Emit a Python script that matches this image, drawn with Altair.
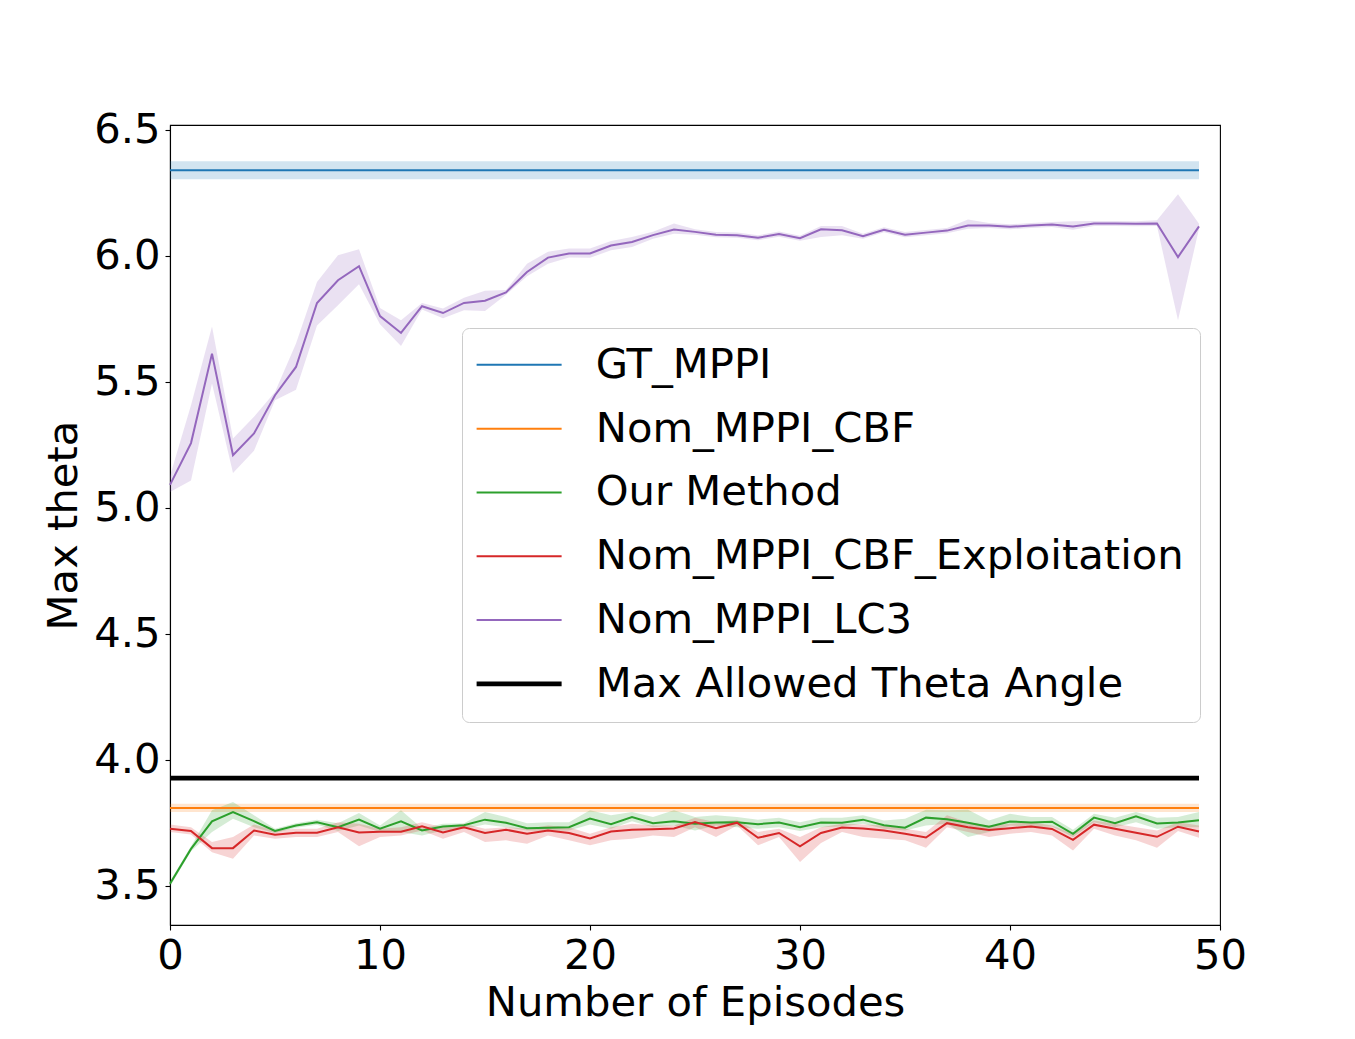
import altair as alt
import pandas as pd

# ---------------- data ----------------
series_names = ["GT_MPPI", "Nom_MPPI_CBF", "Our Method",
                "Nom_MPPI_CBF_Exploitation", "Nom_MPPI_LC3",
                "Max Allowed Theta Angle"]
series_colors = ["#1f77b4", "#ff7f0e", "#2ca02c", "#d62728", "#9467bd", "#000000"]
series_widths = [2, 2, 2, 2, 2, 4.8]

band_names = series_names[:5]
band_colors = series_colors[:5]

episodes = list(range(50))
flat_episodes = [0, 49]

gt_mean, gt_lo, gt_hi = 6.338, 6.303, 6.374
cbf_mean, cbf_lo, cbf_hi = 3.808, 3.792, 3.825
max_theta = 3.927

our_mean = [3.508, 3.646, 3.755, 3.792, 3.756, 3.717, 3.739, 3.752, 3.732, 3.762,
            3.726, 3.755, 3.719, 3.735, 3.740, 3.762, 3.750, 3.728, 3.730, 3.732,
            3.766, 3.744, 3.772, 3.748, 3.756, 3.746, 3.751, 3.752, 3.744, 3.751,
            3.732, 3.751, 3.750, 3.762, 3.740, 3.730, 3.770, 3.764, 3.750, 3.734,
            3.755, 3.751, 3.754, 3.706, 3.770, 3.748, 3.775, 3.747, 3.751, 3.760]
our_lo = [3.497, 3.637, 3.713, 3.766, 3.732, 3.709, 3.730, 3.742, 3.717, 3.739,
          3.713, 3.713, 3.699, 3.719, 3.726, 3.743, 3.732, 3.719, 3.717, 3.719,
          3.743, 3.726, 3.756, 3.732, 3.739, 3.719, 3.739, 3.732, 3.726, 3.732,
          3.717, 3.732, 3.735, 3.746, 3.726, 3.719, 3.739, 3.746, 3.693, 3.713,
          3.739, 3.732, 3.735, 3.693, 3.752, 3.732, 3.752, 3.726, 3.732, 3.732]
our_hi = [3.518, 3.656, 3.799, 3.832, 3.779, 3.726, 3.748, 3.762, 3.748, 3.788,
          3.739, 3.799, 3.728, 3.746, 3.748, 3.792, 3.772, 3.748, 3.752, 3.752,
          3.799, 3.779, 3.792, 3.772, 3.799, 3.772, 3.779, 3.772, 3.762, 3.770,
          3.752, 3.770, 3.770, 3.779, 3.759, 3.766, 3.801, 3.799, 3.801, 3.759,
          3.785, 3.772, 3.772, 3.722, 3.785, 3.770, 3.792, 3.770, 3.772, 3.792]

exp_mean = [3.726, 3.717, 3.649, 3.649, 3.719, 3.702, 3.710, 3.710, 3.732, 3.711,
            3.714, 3.714, 3.736, 3.711, 3.732, 3.709, 3.722, 3.706, 3.719, 3.709,
            3.687, 3.715, 3.722, 3.724, 3.727, 3.752, 3.728, 3.750, 3.690, 3.709,
            3.656, 3.709, 3.731, 3.727, 3.719, 3.706, 3.691, 3.748, 3.732, 3.721,
            3.728, 3.735, 3.725, 3.682, 3.742, 3.726, 3.710, 3.694, 3.734, 3.715]
exp_lo = [3.713, 3.703, 3.633, 3.607, 3.699, 3.686, 3.693, 3.693, 3.713, 3.656,
          3.693, 3.699, 3.719, 3.686, 3.713, 3.673, 3.680, 3.666, 3.699, 3.680,
          3.660, 3.680, 3.686, 3.699, 3.693, 3.732, 3.693, 3.739, 3.660, 3.693,
          3.594, 3.669, 3.713, 3.693, 3.686, 3.680, 3.650, 3.732, 3.713, 3.693,
          3.706, 3.713, 3.699, 3.640, 3.726, 3.699, 3.680, 3.650, 3.717, 3.690]
exp_hi = [3.743, 3.732, 3.673, 3.693, 3.743, 3.719, 3.726, 3.726, 3.752, 3.746,
          3.726, 3.732, 3.752, 3.732, 3.746, 3.726, 3.732, 3.726, 3.739, 3.732,
          3.706, 3.732, 3.746, 3.739, 3.739, 3.770, 3.752, 3.762, 3.713, 3.726,
          3.693, 3.732, 3.746, 3.743, 3.739, 3.726, 3.713, 3.779, 3.752, 3.739,
          3.746, 3.752, 3.739, 3.706, 3.759, 3.746, 3.732, 3.719, 3.752, 3.739]

lc3_mean = [5.090, 5.256, 5.611, 5.208, 5.294, 5.446, 5.558, 5.812, 5.902, 5.958,
            5.760, 5.693, 5.799, 5.772, 5.812, 5.821, 5.854, 5.935, 5.992, 6.008,
            6.008, 6.040, 6.054, 6.081, 6.103, 6.094, 6.083, 6.081, 6.071, 6.085,
            6.069, 6.104, 6.100, 6.077, 6.102, 6.083, 6.091, 6.099, 6.119, 6.119,
            6.114, 6.119, 6.123, 6.115, 6.127, 6.127, 6.126, 6.127, 5.994, 6.116]
lc3_lo = [5.062, 5.108, 5.492, 5.137, 5.226, 5.426, 5.468, 5.723, 5.803, 5.886,
          5.727, 5.641, 5.786, 5.751, 5.783, 5.780, 5.845, 5.918, 5.968, 5.992,
          5.991, 6.021, 6.034, 6.067, 6.087, 6.083, 6.073, 6.071, 6.061, 6.075,
          6.059, 6.074, 6.081, 6.067, 6.092, 6.073, 6.081, 6.089, 6.106, 6.109,
          6.104, 6.109, 6.113, 6.102, 6.117, 6.117, 6.116, 6.117, 5.743, 6.106]
lc3_hi = [5.125, 5.406, 5.719, 5.274, 5.360, 5.459, 5.651, 5.895, 6.001, 6.025,
          5.792, 5.743, 5.812, 5.790, 5.833, 5.860, 5.863, 5.968, 6.015, 6.028,
          6.028, 6.058, 6.074, 6.094, 6.127, 6.104, 6.093, 6.091, 6.081, 6.095,
          6.079, 6.117, 6.117, 6.087, 6.112, 6.093, 6.101, 6.109, 6.143, 6.129,
          6.124, 6.129, 6.133, 6.136, 6.137, 6.137, 6.136, 6.140, 6.243, 6.126]

x_ticks = [0, 10, 20, 30, 40, 50]
y_ticks = [3.5, 4.0, 4.5, 5.0, 5.5, 6.0, 6.5]

# ---------------- long table ----------------
rows = []
for e in flat_episodes:
    rows.append(dict(series="GT_MPPI", episode=e, mean=gt_mean, lo=gt_lo, hi=gt_hi))
for e in flat_episodes:
    rows.append(dict(series="Nom_MPPI_CBF", episode=e, mean=cbf_mean, lo=cbf_lo, hi=cbf_hi))
for i, e in enumerate(episodes):
    rows.append(dict(series="Our Method", episode=e, mean=our_mean[i], lo=our_lo[i], hi=our_hi[i]))
for i, e in enumerate(episodes):
    rows.append(dict(series="Nom_MPPI_CBF_Exploitation", episode=e, mean=exp_mean[i], lo=exp_lo[i], hi=exp_hi[i]))
for i, e in enumerate(episodes):
    rows.append(dict(series="Nom_MPPI_LC3", episode=e, mean=lc3_mean[i], lo=lc3_lo[i], hi=lc3_hi[i]))
for e in flat_episodes:
    rows.append(dict(series="Max Allowed Theta Angle", episode=e, mean=max_theta, lo=None, hi=None))
df = pd.DataFrame(rows)

FONT = "DejaVu Sans"
FS = 41.7

fill_scale = alt.Scale(type="ordinal", domain=band_names, range=band_colors)
color_scale = alt.Scale(type="ordinal", domain=series_names, range=series_colors)
width_scale = alt.Scale(type="ordinal", domain=series_names, range=series_widths)

x_enc = alt.X("episode:Q",
              scale=alt.Scale(domain=[0, 50], nice=False, zero=False),
              axis=alt.Axis(values=x_ticks, title="Number of Episodes", format="d"))
y_scale = alt.Scale(domain=[3.344, 6.518], nice=False, zero=False)

base = alt.Chart(df)

bands = base.transform_filter("datum.lo != null").mark_area(opacity=0.2).encode(
    x=x_enc,
    y=alt.Y("lo:Q", scale=y_scale,
            axis=alt.Axis(values=y_ticks, format=".1f", title="Max theta")),
    y2="hi:Q",
    fill=alt.Fill("series:N", scale=fill_scale, legend=None),
)

legend = alt.Legend(
    orient="none", legendX=292, legendY=203,
    symbolType="M-1.57,0L4.43,0", symbolSize=803, symbolOpacity=1,
    labelFont=FONT, labelFontSize=FS, labelColor="black", labelLimit=2000,
    labelOffset=76, padding=16, rowPadding=20.8,
    strokeColor="#cccccc", fillColor="#ffffff", cornerRadius=7,
)

lines = base.mark_line().encode(
    x=x_enc,
    y=alt.Y("mean:Q", scale=y_scale),
    color=alt.Color("series:N", scale=color_scale, legend=legend, title=""),
    strokeWidth=alt.StrokeWidth("series:N", scale=width_scale, legend=legend, title=""),
)

chart = alt.layer(bands, lines).properties(
    width=1050, height=800,
    autosize=alt.AutoSizeParams(type="none"),
    padding={"left": 162, "top": 117, "right": 120, "bottom": 100},
).configure_view(
    stroke="black", strokeWidth=1.1
).configure_axis(
    labelFont=FONT, labelFontSize=FS, labelColor="black",
    titleFont=FONT, titleFontSize=FS, titleColor="black", titleFontWeight="normal",
    tickColor="black", tickSize=5, tickWidth=1.1,
    domainColor="black", domainWidth=1.1, grid=False,
    labelPadding=5, labelFlush=False, labelOverlap=False,
).configure_axisX(
    titlePadding=6,
).configure_axisY(
    titlePadding=8,
)

chart.save("out.html", embed_options={"renderer": "svg", "actions": False})
